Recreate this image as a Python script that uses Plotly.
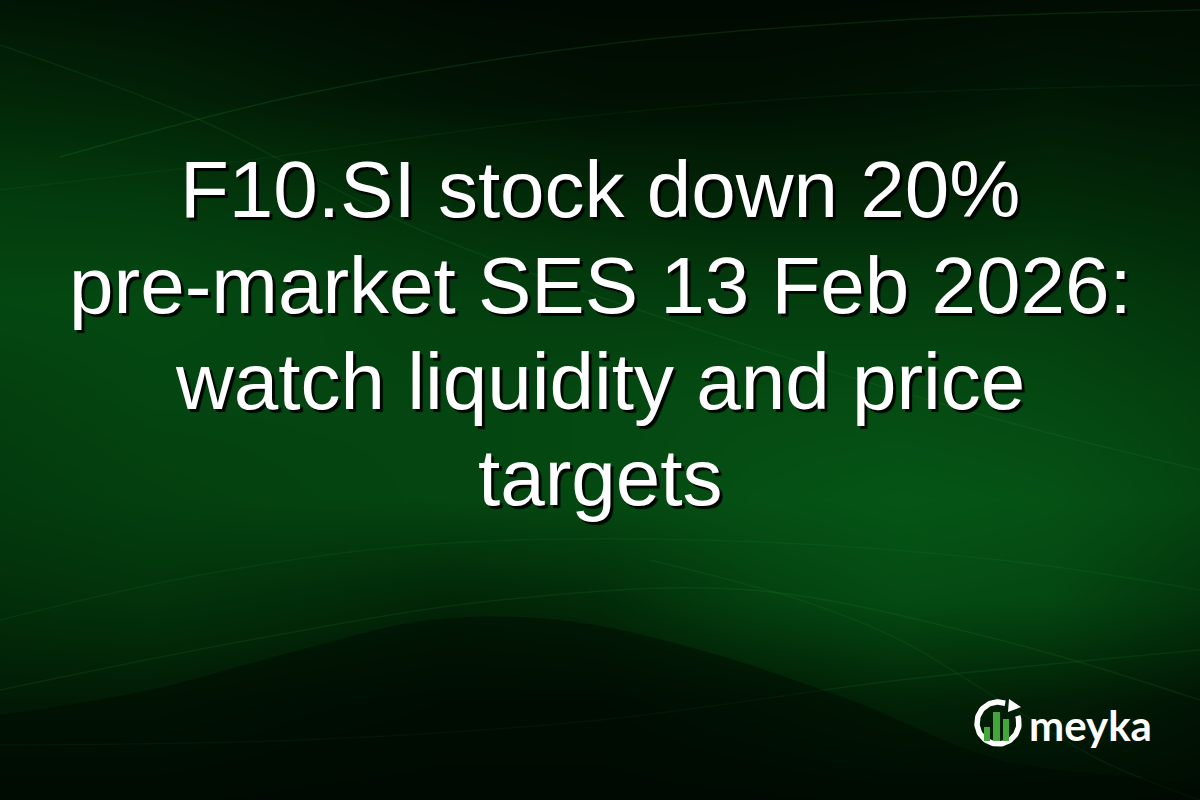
import numpy as np
import plotly.graph_objects as go

# headline lines, as shown on the card
title_lines = [
    "F10.SI stock down 20%",
    "pre-market SES 13 Feb 2026:",
    "watch liquidity and price",
    "targets",
]
title_baselines = [218, 314, 410, 506]

# rough brightness of the green backdrop on a coarse grid
bg_x = [0, 150, 300, 450, 600, 750, 900, 1050, 1200]
bg_y = [0, 100, 200, 300, 400, 500, 600, 700, 800]
bg_level = [
    [0.15, 0.12, 0.08, 0.04, 0.03, 0.03, 0.04, 0.06, 0.06],
    [0.32, 0.28, 0.20, 0.14, 0.10, 0.10, 0.13, 0.18, 0.14],
    [0.54, 0.52, 0.46, 0.40, 0.34, 0.30, 0.30, 0.35, 0.30],
    [0.66, 0.68, 0.64, 0.58, 0.56, 0.56, 0.56, 0.56, 0.46],
    [0.58, 0.64, 0.64, 0.64, 0.68, 0.72, 0.72, 0.68, 0.58],
    [0.52, 0.58, 0.62, 0.64, 0.68, 0.78, 0.86, 0.80, 0.64],
    [0.40, 0.44, 0.38, 0.30, 0.36, 0.58, 0.70, 0.66, 0.46],
    [0.20, 0.20, 0.14, 0.10, 0.10, 0.18, 0.28, 0.24, 0.14],
    [0.07, 0.07, 0.05, 0.04, 0.04, 0.05, 0.07, 0.07, 0.05],
]

fig = go.Figure()

fig.add_trace(go.Heatmap(
    x=bg_x, y=bg_y, z=bg_level, zmin=0, zmax=1, zsmooth="best",
    colorscale=[[0, "#010601"], [0.35, "#022a08"], [0.65, "#044611"], [1, "#076019"]],
    showscale=False, hoverinfo="skip",
))

# faint light streaks across the backdrop
streaks = [
    ([0, 200, 420, 700, 1000, 1200], [45, 120, 230, 330, 420, 470], 0.10),
    ([60, 300, 600, 900, 1200], [157, 95, 45, 20, 10], 0.14),
    ([0, 250, 550, 850, 1200], [190, 160, 120, 95, 85], 0.07),
    ([0, 200, 420, 700, 1000, 1200], [620, 575, 545, 540, 560, 590], 0.08),
    ([0, 250, 500, 750, 1000, 1200], [690, 640, 600, 590, 640, 700], 0.10),
    ([0, 300, 600, 900, 1200], [745, 740, 720, 680, 650], 0.10),
    ([650, 800, 900, 1000, 1100, 1200], [560, 600, 640, 700, 760, 800], 0.09),
]
for sx, sy, a in streaks:
    fig.add_trace(go.Scatter(
        x=sx, y=sy, mode="lines", line=dict(color=f"rgba(60,190,80,{a})", width=1.5, shape="spline"),
        hoverinfo="skip", showlegend=False,
    ))

# dark swoosh across the lower part
fig.add_trace(go.Scatter(
    x=[0, 150, 300, 430, 560, 700, 850, 1000, 1200, 1200, 0],
    y=[715, 690, 650, 620, 620, 650, 700, 760, 790, 800, 800],
    mode="lines", fill="toself", fillcolor="rgba(0,8,2,0.45)",
    line=dict(width=0, shape="spline"), hoverinfo="skip", showlegend=False,
))

# headline
for line, base in zip(title_lines, title_baselines):
    fig.add_annotation(
        x=600, y=base - 29, xref="x", yref="y", text=line, showarrow=False,
        xanchor="center", yanchor="middle",
        font=dict(family="Liberation Sans, Arial, sans-serif", size=80, color="white",
                  shadow="3px 3px 1px rgba(0,0,0,0.9)"),
    )

# meyka logo: ring with arrow, three bars, wordmark
ang = np.radians(np.linspace(70, 380, 80))
fig.add_trace(go.Scatter(
    x=998 + 21 * np.cos(ang), y=723 - 21 * np.sin(ang), mode="lines",
    line=dict(color="white", width=5.5), hoverinfo="skip", showlegend=False,
))
fig.add_shape(type="path", path="M 1009 699 L 1021 707 L 1008 712 Z",
              fillcolor="white", line=dict(width=0))
for x0, x1, y0 in [(984, 990, 727), (993, 1000, 712), (1003, 1009, 719)]:
    fig.add_shape(type="rect", x0=x0, x1=x1, y0=y0, y1=741,
                  fillcolor="#43a83a", line=dict(width=0))
fig.add_annotation(
    x=1027, y=725, xref="x", yref="y", text="<b>meyka</b>", showarrow=False,
    xanchor="left", yanchor="middle",
    font=dict(family="Lato, sans-serif", size=42, color="white"),
)

fig.update_xaxes(range=[0, 1200], visible=False, fixedrange=True)
fig.update_yaxes(range=[800, 0], visible=False, fixedrange=True)
fig.update_layout(
    width=1200, height=800, margin=dict(l=0, r=0, t=0, b=0),
    paper_bgcolor="#021004", plot_bgcolor="#021004", showlegend=False,
)

fig.write_html("out.html", config={"displayModeBar": False},
               post_script="document.body.style.margin='0';document.body.style.overflow='hidden';")
